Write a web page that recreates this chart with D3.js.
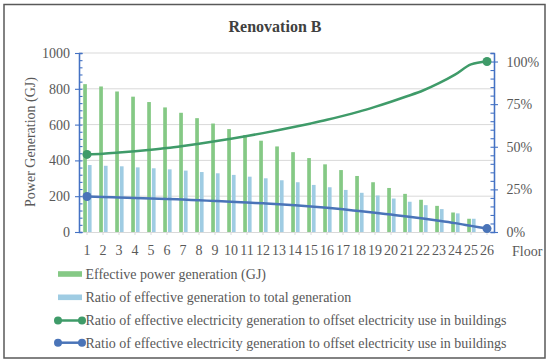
<!DOCTYPE html>
<html>
<head>
<meta charset="utf-8">
<script src="https://cdn.jsdelivr.net/npm/d3@7"></script>
<style>
  body { margin: 0; background: #ffffff; }
  svg text { font-family: "Liberation Serif", "Times New Roman", serif; fill: #595959; }
</style>
</head>
<body>
<svg id="chart"></svg>
<script>
var floors = ["1", "2", "3", "4", "5", "6", "7", "8", "9", "10", "11", "12", "13",
              "14", "15", "16", "17", "18", "19", "20", "21", "22", "23", "24", "25", "26"];

// bars, left axis (GJ)
var effectivePower = [826, 813, 785, 756, 726, 696, 666, 636, 606, 575, 542, 510, 478,
                      446, 413, 378, 346, 313, 278, 246, 213, 180, 146, 109, 74, 0];
var ratioTotal = [374, 370, 367, 361, 356, 350, 343, 335, 328, 319, 309, 300, 289,
                  278, 263, 250, 235, 219, 204, 187, 169, 150, 128, 104, 74, 0];

// lines, right axis (%)
var offsetGreen = [0.455, 0.459, 0.466, 0.474, 0.483, 0.493, 0.505, 0.518, 0.532, 0.547, 0.563, 0.580, 0.598,
                   0.617, 0.637, 0.658, 0.681, 0.706, 0.734, 0.764, 0.796, 0.830, 0.873, 0.923, 0.983, 1.0];
var offsetBlue = [0.208, 0.206, 0.203, 0.200, 0.197, 0.194, 0.190, 0.186, 0.182, 0.178, 0.173, 0.168, 0.163,
                  0.157, 0.150, 0.142, 0.133, 0.123, 0.113, 0.102, 0.091, 0.079, 0.066, 0.052, 0.036, 0.020];

var leftTicks = [0, 200, 400, 600, 800, 1000];
var rightTicks = [0, 0.25, 0.5, 0.75, 1];

var legendLabels = [
  "Effective power generation (GJ)",
  "Ratio of effective generation to total generation",
  "Ratio of effective electricity generation to offset electricity use in buildings",
  "Ratio of effective electricity generation to offset electricity use in buildings"
];

var colGreenBar = "#85c985";
var colBlueBar = "#9fcce3";
var colGreenLine = "#3f9b69";
var colBlueLine = "#4a74b8";
var colAxis = "#4472c4";
var colGrid = "#d9d9d9";

var svg = d3.select("#chart").attr("width", 550).attr("height", 364);

// outer frame
svg.append("rect")
   .attr("x", 4).attr("y", 4.5)
   .attr("width", 541).attr("height", 353.5)
   .attr("fill", "#ffffff")
   .attr("stroke", "#595959")
   .attr("stroke-width", 1.5);

// title
svg.append("text")
   .attr("x", 275).attr("y", 31.5)
   .attr("text-anchor", "middle")
   .style("font-size", "16px")
   .style("font-weight", "bold")
   .style("fill", "#404040")
   .text("Renovation B");

// scales
var x = d3.scaleBand().domain(floors).range([79, 495]);
var xSub = d3.scaleBand().domain(["power", "ratio"]).range([-3.8, 4.6]).paddingInner(0.22);
var yLeft = d3.scaleLinear().domain([0, 1000]).range([232, 53]);
var yRight = d3.scaleLinear().domain([0, 1.05]).range([232, 53]);

function cx(f) { return x(f) + x.bandwidth() / 2; }

// gridlines
svg.append("g").selectAll("line")
   .data(leftTicks.slice(1))
   .enter().append("line")
   .attr("x1", 79).attr("x2", 494)
   .attr("y1", function(d) { return yLeft(d); })
   .attr("y2", function(d) { return yLeft(d); })
   .attr("stroke", colGrid).attr("stroke-width", 1);

// bars
var barData = floors.map(function(f, i) {
  return [{ f: f, key: "power", v: effectivePower[i] }, { f: f, key: "ratio", v: ratioTotal[i] }];
});
svg.append("g").selectAll("g")
   .data(barData)
   .enter().append("g")
   .selectAll("rect")
   .data(function(d) { return d; })
   .enter().append("rect")
   .attr("x", function(d) { return cx(d.f) + xSub(d.key); })
   .attr("width", xSub.bandwidth())
   .attr("y", function(d) { return yLeft(d.v); })
   .attr("height", function(d) { return yLeft(0) - yLeft(d.v); })
   .attr("fill", function(d) { return d.key === "power" ? colGreenBar : colBlueBar; });

// x axis
var xAxis = svg.append("g")
   .attr("transform", "translate(0,232)")
   .call(d3.axisBottom(x).tickSizeInner(3).tickSizeOuter(0).tickPadding(10));
xAxis.select(".domain").attr("stroke", colGrid);
xAxis.selectAll(".tick line").attr("stroke", colGrid);
xAxis.selectAll("text").style("font-size", "14px").style("fill", "#595959");

svg.append("text")
   .attr("x", 512).attr("y", 255.5)
   .style("font-size", "14px")
   .text("Floor");

// left axis: major ticks cross the line, minor ticks on the inside
var minorLeft = d3.range(0, 1001, 40);
var leftAxis = svg.append("g")
   .attr("transform", "translate(79,0)")
   .call(d3.axisLeft(yLeft).tickValues(leftTicks).tickSizeInner(4).tickSizeOuter(0).tickPadding(5)
         .tickFormat(d3.format("d")));
var leftMinor = svg.append("g")
   .attr("transform", "translate(79,0)")
   .call(d3.axisRight(yLeft).tickValues(minorLeft).tickSize(3.5).tickFormat(""));

// right axis
var minorRight = d3.range(0, 21).map(function(i) { return i * 0.05; }).concat([1.05]);
var rightAxis = svg.append("g")
   .attr("transform", "translate(494,0)")
   .call(d3.axisRight(yRight).tickValues(rightTicks).tickSizeInner(4).tickSizeOuter(0).tickPadding(8.5)
         .tickFormat(d3.format(".0%")));
var rightMinor = svg.append("g")
   .attr("transform", "translate(494,0)")
   .call(d3.axisLeft(yRight).tickValues(minorRight).tickSize(3.5).tickFormat(""));

[leftAxis, leftMinor, rightAxis, rightMinor].forEach(function(a) {
  a.attr("font-family", null);
  a.select(".domain").attr("stroke", colAxis).attr("stroke-width", 1.3);
  a.selectAll(".tick line").attr("stroke", colAxis).attr("stroke-width", 1.1);
  a.selectAll("text").style("font-size", "14px").style("fill", "#595959");
});
xAxis.attr("font-family", null);

// y axis title
svg.append("text")
   .attr("transform", "translate(35,142) rotate(-90)")
   .attr("text-anchor", "middle")
   .style("font-size", "14px")
   .text("Power Generation (GJ)");

// smoothed lines on the right axis, dots at both ends
function drawLine(values, color) {
  var pts = floors.map(function(f, i) { return [cx(f), yRight(values[i])]; });
  svg.append("path")
     .attr("d", d3.line().curve(d3.curveMonotoneX)(pts))
     .attr("fill", "none")
     .attr("stroke", color)
     .attr("stroke-width", 2.5);
  svg.append("g").selectAll("circle")
     .data([pts[0], pts[pts.length - 1]])
     .enter().append("circle")
     .attr("cx", function(d) { return d[0]; })
     .attr("cy", function(d) { return d[1]; })
     .attr("r", 4.5)
     .attr("fill", color);
}
drawLine(offsetGreen, colGreenLine);
drawLine(offsetBlue, colBlueLine);

// legend
var legendY = [274, 297.3, 320.5, 342.7];
var legendKinds = [
  { type: "rect", color: colGreenBar },
  { type: "rect", color: colBlueBar },
  { type: "line", color: colGreenLine },
  { type: "line", color: colBlueLine }
];
var legend = svg.append("g").selectAll("g")
   .data(legendLabels)
   .enter().append("g")
   .attr("transform", function(d, i) { return "translate(0," + legendY[i] + ")"; });

legend.each(function(d, i) {
  var g = d3.select(this);
  var k = legendKinds[i];
  if (k.type === "rect") {
    g.append("rect").attr("x", 58).attr("y", -2.8).attr("width", 24).attr("height", 5.6).attr("fill", k.color);
  } else {
    g.append("line").attr("x1", 58).attr("x2", 82).attr("y1", 0).attr("y2", 0)
     .attr("stroke", k.color).attr("stroke-width", 2.5);
    g.append("circle").attr("cx", 58).attr("cy", 0).attr("r", 4).attr("fill", k.color);
    g.append("circle").attr("cx", 82).attr("cy", 0).attr("r", 4).attr("fill", k.color);
  }
  g.append("text")
   .attr("x", 85.5).attr("y", 4.8)
   .style("font-size", "14px")
   .text(d);
});
</script>
</body>
</html>
